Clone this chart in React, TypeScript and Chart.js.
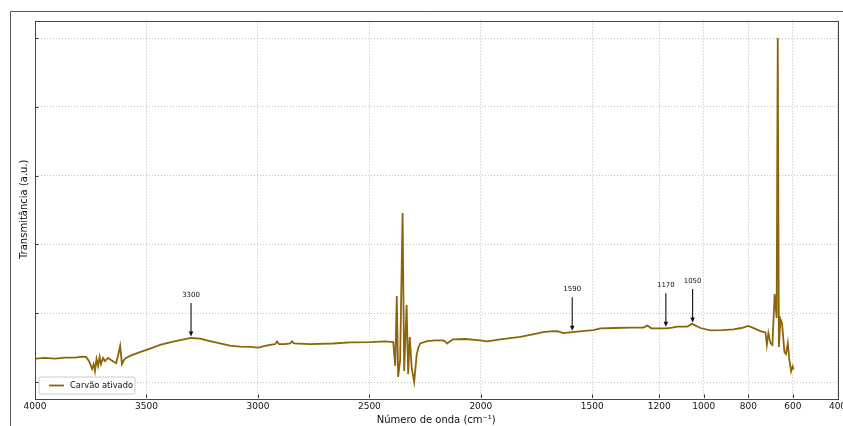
import React, { useEffect, useRef } from 'react';
import { Chart, registerables } from 'chart.js';

Chart.register(...registerables);

const seriesLabel = 'Carvão ativado';

const wavenumbers = [
  4000, 3955, 3910, 3865, 3820, 3789, 3771, 3758, 3744, 3737, 3731, 3724, 3717, 3710, 3704, 3695,
  3686, 3672, 3659, 3645, 3636, 3627, 3618, 3610, 3601, 3592, 3574, 3529, 3484, 3439, 3394, 3349,
  3300, 3259, 3215, 3170, 3125, 3080, 3035, 2999, 2968, 2945, 2923, 2914, 2905, 2878, 2855, 2847,
  2838, 2766, 2663, 2586, 2496, 2429, 2393, 2384, 2377, 2371, 2362, 2351, 2344, 2333, 2326, 2319,
  2310, 2299, 2288, 2281, 2272, 2241, 2205, 2169, 2160, 2151, 2137, 2124, 2070, 2003, 1971, 1913,
  1823, 1756, 1720, 1689, 1657, 1630, 1590, 1545, 1496, 1464, 1397, 1329, 1271, 1253, 1235, 1204,
  1168, 1141, 1119, 1074, 1052, 1015, 970, 916, 867, 831, 800, 773, 746, 723, 717, 710,
  701, 692, 682, 673, 668, 663, 656, 649, 638, 631, 623, 616, 608, 601, 597,
];

const transmittance = [
  6.8, 7.0, 6.8, 7.1, 7.1, 7.4, 7.3, 6.1, 3.8, 5.2, 3.2, 6.7, 4.7, 7.3, 5.2, 7.0,
  6.1, 7.0, 6.4, 5.8, 5.5, 7.8, 10.5, 5.2, 6.4, 7.0, 7.6, 8.7, 9.7, 10.8, 11.5, 12.2,
  12.8, 12.6, 11.9, 11.2, 10.6, 10.3, 10.2, 10.0, 10.5, 10.8, 11.0, 11.8, 11.0, 11.0, 11.2, 11.8,
  11.2, 11.0, 11.2, 11.5, 11.6, 11.8, 11.6, 4.7, 25.0, 1.5, 6.4, 49.1, 3.2, 22.4, 2.3, 13.1,
  4.1, 0.0, 7.8, 9.9, 11.2, 11.9, 12.1, 12.1, 11.8, 11.2, 11.9, 12.4, 12.5, 12.1, 11.8, 12.4,
  13.1, 14.0, 14.5, 14.7, 14.8, 14.2, 14.5, 14.8, 15.1, 15.6, 15.7, 15.8, 15.8, 16.4, 15.6, 15.6,
  15.6, 15.8, 16.1, 16.1, 16.9, 15.7, 15.0, 15.1, 15.3, 15.7, 16.3, 15.6, 14.8, 14.4, 10.8, 14.2,
  11.3, 10.8, 25.6, 18.6, 100.0, 10.2, 18.3, 17.2, 8.7, 8.1, 11.3, 6.4, 3.1, 4.5, 3.6,
];

const xTickValues = [4000, 3500, 3000, 2500, 2000, 1500, 1200, 1000, 800, 600, 400];
const yGridValues = [0, 20, 40, 60, 80, 100];

const annotationLabels = ['3300', '1590', '1170', '1050'];
const annotationWn = [3300, 1590, 1170, 1050];
const annotationY = [12.8, 14.5, 15.6, 16.9];

const FONT = "'DejaVu Sans', sans-serif";
const LINE_COLOR = '#8B6508';
const GRID_COLOR = 'rgba(150,150,150,0.75)';

const decorPlugin = {
  id: 'decor',
  beforeDraw(chart: any) {
    const ctx = chart.ctx;
    ctx.save();
    ctx.fillStyle = '#ffffff';
    ctx.fillRect(0, 0, chart.width, chart.height);
    ctx.strokeStyle = '#555555';
    ctx.lineWidth = 1;
    ctx.beginPath();
    ctx.moveTo(10.5, chart.height);
    ctx.lineTo(10.5, 11.5);
    ctx.lineTo(chart.width, 11.5);
    ctx.stroke();
    ctx.restore();
  },
  afterDraw(chart: any) {
    const ctx = chart.ctx;
    const { left, top, right, bottom } = chart.chartArea;
    const xs = chart.scales.x;
    const ys = chart.scales.y;
    ctx.save();
    // inward ticks
    ctx.strokeStyle = '#333333';
    ctx.lineWidth = 1;
    ctx.beginPath();
    xTickValues.forEach((v) => {
      const px = Math.round(xs.getPixelForValue(v)) + 0.5;
      ctx.moveTo(px, bottom);
      ctx.lineTo(px, bottom - 3.5);
    });
    yGridValues.forEach((v) => {
      const py = Math.round(ys.getPixelForValue(v)) + 0.5;
      ctx.moveTo(left, py);
      ctx.lineTo(left + 3.5, py);
    });
    ctx.stroke();
    // frame
    ctx.strokeStyle = '#444444';
    ctx.strokeRect(Math.round(left) + 0.5, Math.round(top) + 0.5, Math.round(right - left), Math.round(bottom - top));

    // annotations
    ctx.fillStyle = '#111111';
    ctx.strokeStyle = '#111111';
    ctx.font = `7px ${FONT}`;
    ctx.textAlign = 'center';
    ctx.textBaseline = 'middle';
    annotationWn.forEach((wn, i) => {
      const px = xs.getPixelForValue(wn);
      const py = ys.getPixelForValue(annotationY[i]);
      const tipY = py - 1.5;
      const tailY = py - 35;
      ctx.lineWidth = 1.1;
      ctx.beginPath();
      ctx.moveTo(px, tailY);
      ctx.lineTo(px, tipY - 4);
      ctx.stroke();
      ctx.beginPath();
      ctx.moveTo(px - 2.3, tipY - 5);
      ctx.lineTo(px + 2.3, tipY - 5);
      ctx.lineTo(px, tipY);
      ctx.closePath();
      ctx.fill();
      ctx.fillText(annotationLabels[i], px, py - 43);
    });

    // legend
    const lx = left + 4;
    const ly = bottom - 21;
    const lw = 96;
    const lh = 17;
    ctx.fillStyle = 'rgba(255,255,255,0.85)';
    ctx.strokeStyle = '#cccccc';
    ctx.lineWidth = 1;
    ctx.beginPath();
    const r = 2;
    ctx.moveTo(lx + r, ly);
    ctx.lineTo(lx + lw - r, ly);
    ctx.quadraticCurveTo(lx + lw, ly, lx + lw, ly + r);
    ctx.lineTo(lx + lw, ly + lh - r);
    ctx.quadraticCurveTo(lx + lw, ly + lh, lx + lw - r, ly + lh);
    ctx.lineTo(lx + r, ly + lh);
    ctx.quadraticCurveTo(lx, ly + lh, lx, ly + lh - r);
    ctx.lineTo(lx, ly + r);
    ctx.quadraticCurveTo(lx, ly, lx + r, ly);
    ctx.closePath();
    ctx.fill();
    ctx.stroke();
    ctx.strokeStyle = LINE_COLOR;
    ctx.lineWidth = 1.8;
    ctx.beginPath();
    ctx.moveTo(lx + 10, ly + lh / 2);
    ctx.lineTo(lx + 25, ly + lh / 2);
    ctx.stroke();
    ctx.fillStyle = '#111111';
    ctx.font = `8.3px ${FONT}`;
    ctx.textAlign = 'left';
    ctx.textBaseline = 'middle';
    ctx.fillText(chart.data.datasets[0].label, lx + 31, ly + lh / 2 + 0.5);
    ctx.restore();
  },
};

export default function App() {
  const ref = useRef<HTMLCanvasElement>(null);
  useEffect(() => {
    const canvas = ref.current;
    if (!canvas) return;
    const chart = new Chart(canvas, {
      type: 'line',
      data: {
        datasets: [
          {
            label: seriesLabel,
            data: wavenumbers.map((x, i) => ({ x, y: transmittance[i] })),
            borderColor: LINE_COLOR,
            backgroundColor: LINE_COLOR,
            borderWidth: 1.8,
            pointRadius: 0,
            tension: 0,
            fill: false,
          },
        ],
      },
      options: {
        responsive: false,
        maintainAspectRatio: false,
        animation: false,
        devicePixelRatio: 1,
        layout: { padding: { top: 20.5, right: 5.5, left: 0, bottom: 0 } },
        plugins: { legend: { display: false }, tooltip: { enabled: false } },
        scales: {
          x: {
            type: 'linear',
            reverse: true,
            min: 400,
            max: 4000,
            afterBuildTicks: (s: any) => {
              s.ticks = xTickValues.map((v) => ({ value: v }));
            },
            afterFit: (s: any) => {
              s.height = 28;
              s.paddingLeft = 0;
              s.paddingRight = 0;
            },
            ticks: {
              autoSkip: false,
              maxRotation: 0,
              padding: 3,
              color: '#111111',
              font: { family: FONT, size: 9 },
              callback: (v: any) => String(v),
            },
            grid: { color: GRID_COLOR, lineWidth: 0.8, drawTicks: false },
            border: { display: false, dash: [1, 2] },
            title: {
              display: true,
              text: 'Número de onda (cm⁻¹)',
              color: '#111111',
              font: { family: FONT, size: 10 },
              padding: { top: 0, bottom: 0 },
            },
          },
          y: {
            type: 'linear',
            min: -4.65,
            max: 105.1,
            afterBuildTicks: (s: any) => {
              s.ticks = yGridValues.map((v) => ({ value: v }));
            },
            afterFit: (s: any) => {
              s.width = 35;
            },
            ticks: { display: false },
            grid: { color: GRID_COLOR, lineWidth: 0.8, drawTicks: false },
            border: { display: false, dash: [1, 2] },
            title: {
              display: true,
              text: 'Transmitância (a.u.)',
              color: '#111111',
              font: { family: FONT, size: 10 },
              padding: { top: 18, bottom: 0 },
            },
          },
        },
      },
      plugins: [decorPlugin],
    });
    return () => chart.destroy();
  }, []);
  return (
    <div style={{ position: 'fixed', left: 0, top: 0, width: 843, height: 426, background: '#ffffff' }}>
      <canvas ref={ref} width={843} height={426} style={{ display: 'block', width: 843, height: 426 }} />
    </div>
  );
}
